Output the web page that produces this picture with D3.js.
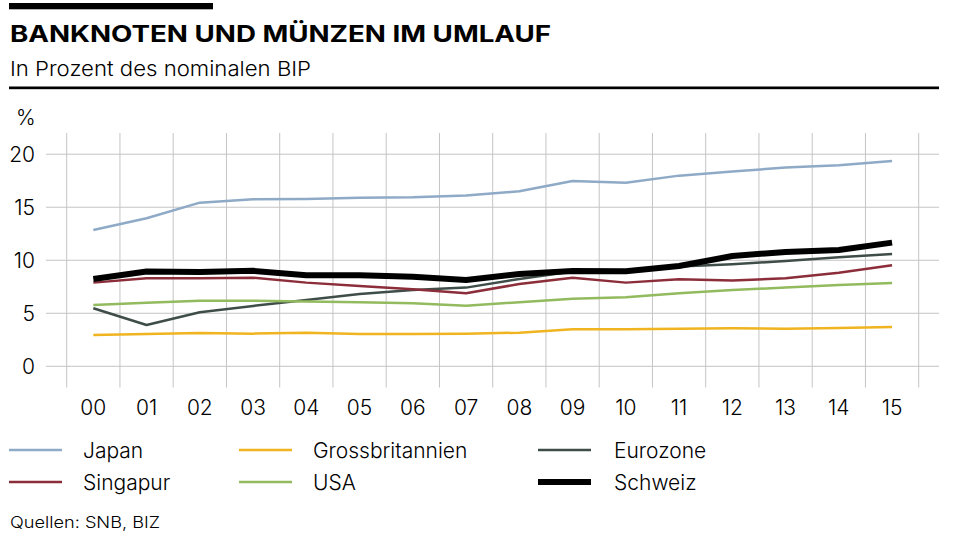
<!DOCTYPE html>
<html><head><meta charset="utf-8">
<script src="https://cdn.jsdelivr.net/npm/d3@7"></script>
<style>
body{margin:0;background:#fff;}
svg{display:block;font-family:Inter, Roboto, "Liberation Sans", sans-serif;}
</style></head>
<body><svg id="c" width="960" height="540"></svg>
<script>
const years = ["00","01","02","03","04","05","06","07","08","09","10","11","12","13","14","15"];
const yTicks = [0,5,10,15,20];
const japan = [12.86,13.96,15.43,15.75,15.78,15.9,15.94,16.1,16.5,17.48,17.3,17.98,18.36,18.74,18.96,19.37];
const grossbritannien = [2.95,3.05,3.14,3.08,3.17,3.05,3.05,3.08,3.17,3.49,3.49,3.55,3.58,3.55,3.61,3.71];
const eurozone = [5.47,3.9,5.09,5.69,6.25,6.82,7.2,7.42,8.24,8.93,8.96,9.4,9.62,9.93,10.28,10.6];
const singapur = [7.89,8.3,8.3,8.36,7.89,7.58,7.26,6.89,7.76,8.36,7.89,8.2,8.08,8.3,8.83,9.53];
const usa = [5.78,6.0,6.19,6.19,6.1,6.04,5.94,5.72,6.04,6.38,6.5,6.89,7.2,7.42,7.67,7.86];
const schweiz = [8.24,8.93,8.9,9.0,8.58,8.58,8.45,8.14,8.7,8.99,8.96,9.46,10.4,10.78,10.97,11.66];
const seriesNames = ["Japan","Grossbritannien","Eurozone","Singapur","USA","Schweiz"];
const seriesValues = [japan,grossbritannien,eurozone,singapur,usa,schweiz];
const seriesColors = ["#8eaac6","#efb41f","#3f4d48","#8c2d3a","#92ba5e","#000000"];
const seriesWidths = [2.5,2.5,2.5,2.5,2.5,6];

const svg = d3.select("#c");
const x = d3.scaleBand().domain(years).range([66.7,918.7]);
const y = d3.scaleLinear().domain([-2,22]).range([387.5,133]);
const LIGHT = 300;

// header
svg.append("rect").attr("x",9).attr("y",3).attr("width",204).attr("height",6.3).attr("fill","#000");
svg.append("text").attr("x",10).attr("y",41.7).attr("font-size",23).attr("font-weight",650)
  .attr("textLength",541).attr("lengthAdjust","spacingAndGlyphs").text("BANKNOTEN UND MÜNZEN IM UMLAUF");
svg.append("text").attr("x",10).attr("y",76).attr("font-size",20.5).attr("font-weight",LIGHT)
  .attr("textLength",301).attr("lengthAdjust","spacingAndGlyphs").text("In Prozent des nominalen BIP");
svg.append("rect").attr("x",9).attr("y",86.5).attr("width",930).attr("height",2.7).attr("fill","#000");
svg.append("text").attr("x",16).attr("y",125).attr("font-size",21).attr("font-weight",LIGHT).text("%");

// grid
const g = svg.append("g");
const xb = years.map(d=>x(d)).concat([x.range()[1]]);
g.selectAll("line.v").data(xb).join("line").attr("class","v")
  .attr("x1",d=>d).attr("x2",d=>d).attr("y1",y(22)).attr("y2",y(-2))
  .attr("stroke","#c4c4c4").attr("stroke-width",1);
g.selectAll("line.h").data(yTicks).join("line").attr("class","h")
  .attr("x1",46).attr("x2",939).attr("y1",d=>y(d)).attr("y2",d=>y(d))
  .attr("stroke","#c4c4c4").attr("stroke-width",1);

// axes labels
g.selectAll("text.yl").data(yTicks).join("text").attr("class","yl")
  .attr("x",35).attr("y",d=>y(d)+7.5).attr("text-anchor","end").attr("font-size",21).attr("font-weight",LIGHT)
  .text(d=>d);
g.selectAll("text.xl").data(years).join("text").attr("class","xl")
  .attr("x",d=>x(d)+x.bandwidth()/2).attr("y",415).attr("text-anchor","middle").attr("font-size",21).attr("font-weight",LIGHT)
  .text(d=>d);

// lines
const line = d3.line().x((d,i)=>x(years[i])+x.bandwidth()/2).y(d=>y(d)).curve(d3.curveLinear);
seriesValues.forEach((vals,k)=>{
  svg.append("path").datum(vals).attr("d",line).attr("fill","none")
    .attr("stroke",seriesColors[k]).attr("stroke-width",seriesWidths[k]).attr("stroke-linejoin","round");
});

// legend
const legX = [9,239,538], legTX=[83,313,614], legY=[450,482];
seriesNames.forEach((n,k)=>{
  const col = k%3, row = Math.floor(k/3);
  svg.append("line").attr("x1",legX[col]).attr("x2",legX[col]+53).attr("y1",legY[row]).attr("y2",legY[row])
    .attr("stroke",seriesColors[k]).attr("stroke-width",seriesWidths[k]);
  svg.append("text").attr("x",legTX[col]).attr("y",legY[row]+8).attr("font-size",21).attr("font-weight",LIGHT).text(n);
});
svg.append("text").attr("x",10).attr("y",528).attr("font-size",16).attr("font-weight",LIGHT)
  .attr("textLength",150).attr("lengthAdjust","spacingAndGlyphs").text("Quellen: SNB, BIZ");
</script></body></html>
